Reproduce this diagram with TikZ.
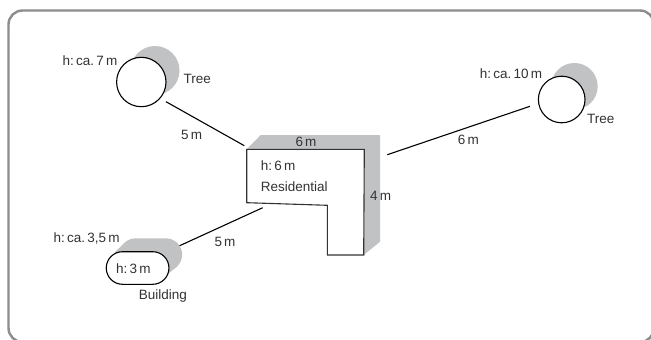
\documentclass[tikz,border=0pt]{standalone}
\usepackage{fontspec}
\setmainfont{Liberation Sans}
\usetikzlibrary{shapes.misc}
\definecolor{shadegray}{HTML}{C1C2C4}
\definecolor{framegray}{HTML}{8C8D8F}
\definecolor{textgray}{HTML}{333333}
\tikzset{
    lbl/.style={inner sep=0pt,text=textgray,font=\fontsize{13.5}{15}\selectfont},
    treebox/.style={circle,draw=black,fill=white,line width=1.1pt,inner sep=0pt},
    pill/.style={rounded rectangle,line width=1.1pt,minimum width=62.7pt,minimum height=32.6pt,inner sep=0pt},
    link/.style={black,line width=1.1pt},
    wall/.style={black!80,line width=1.1pt,fill=white,line join=miter},
    shade/.style={fill=shadegray}
}
\begin{document}
\begin{tikzpicture}[x=1pt,y=-1pt]
        \useasboundingbox (0,0) rectangle (651,340);
        \fill[white] (0,0) rectangle (651,340);
        % outer frame
        \draw[framegray,line width=2.4pt,rounded corners=14pt] (8.5,10.5) rectangle (654,342);

        % shadows
        \node[shade,circle,minimum size=49pt,inner sep=0pt] (treeleftshade) at (155,70.5) {};
        \node[shade,circle,minimum size=46.6pt,inner sep=0pt] (treerightshade) at (574.4,86.3) {};
        \node[shade,pill] (buildingshade) at (150.8,254.6) {};
        \fill[shade] (115,252) -- (124.4,243.1) -- (136,240) -- (150,262) -- (122,266) -- cycle;
        \fill[shade] (150,260) -- (166,254.6) -- (177.5,266.1) -- (168,274) -- cycle;
        \fill[shade] (246.7,149.3) -- (260.7,135) -- (380,135) -- (380,241.7) -- (363.7,255) -- (364.3,149.3) -- cycle;

        % objects
        \node[treebox,minimum size=49.4pt] (treeleft) at (141.3,82) {};
        \node[treebox,minimum size=46.6pt] (treeright) at (561.7,99.5) {};
        \node[pill,draw=black,fill=white] (building) at (137.6,268) {};
        \draw[wall] (246.7,149.3) -- (364.3,149.3) -- (363.7,255) -- (327.3,255) -- (327.3,205.3) -- (246.7,202.7) -- cycle;

        % connector ends
        \coordinate (treeleftend) at (166,101.7);
        \coordinate (housenw) at (244.3,145.7);
        \coordinate (buildingend) at (179.7,245.7);
        \coordinate (housesw) at (262.7,207.7);
        \coordinate (houseeast) at (387.3,154.7);
        \coordinate (treerightend) at (530,106.3);
        \draw[link] (treeleftend) -- (housenw);
        \draw[link] (buildingend) -- (housesw);
        \draw[link] (houseeast) -- (treerightend);

        % left tree
        \node[lbl] (hleft) at (90,60.7) {h:\,ca.\,7\,m};
        \node[lbl] (nameleft) at (197.3,78.7) {Tree};
        \node[lbl] (distleft) at (191.7,134.7) {5\,m};
        % right tree
        \node[lbl] (hright) at (511,73.7) {h:\,ca.\,10\,m};
        \node[lbl] (nameright) at (600.7,119.3) {Tree};
        \node[lbl] (distright) at (468.3,140.3) {6\,m};
        % building
        \node[lbl] (hbuildtop) at (86.7,238.7) {h:\,ca.\,3,5\,m};
        \node[lbl] (hbuild) at (133.3,268.7) {h:\,3\,m};
        \node[lbl] (namebuild) at (163,295.7) {Building};
        \node[lbl] (distbuild) at (225,242.3) {5\,m};
        % house
        \node[lbl] (sizetop) at (306,142.3) {6\,m};
        \node[lbl] (sizeside) at (380.7,195.7) {4\,m};
        \node[lbl,anchor=west] (hhouse) at (260.7,165.7) {h:\,6\,m};
        \node[lbl,anchor=west] (namehouse) at (260.7,186.7) {Residential};
    \end{tikzpicture}
\end{document}
